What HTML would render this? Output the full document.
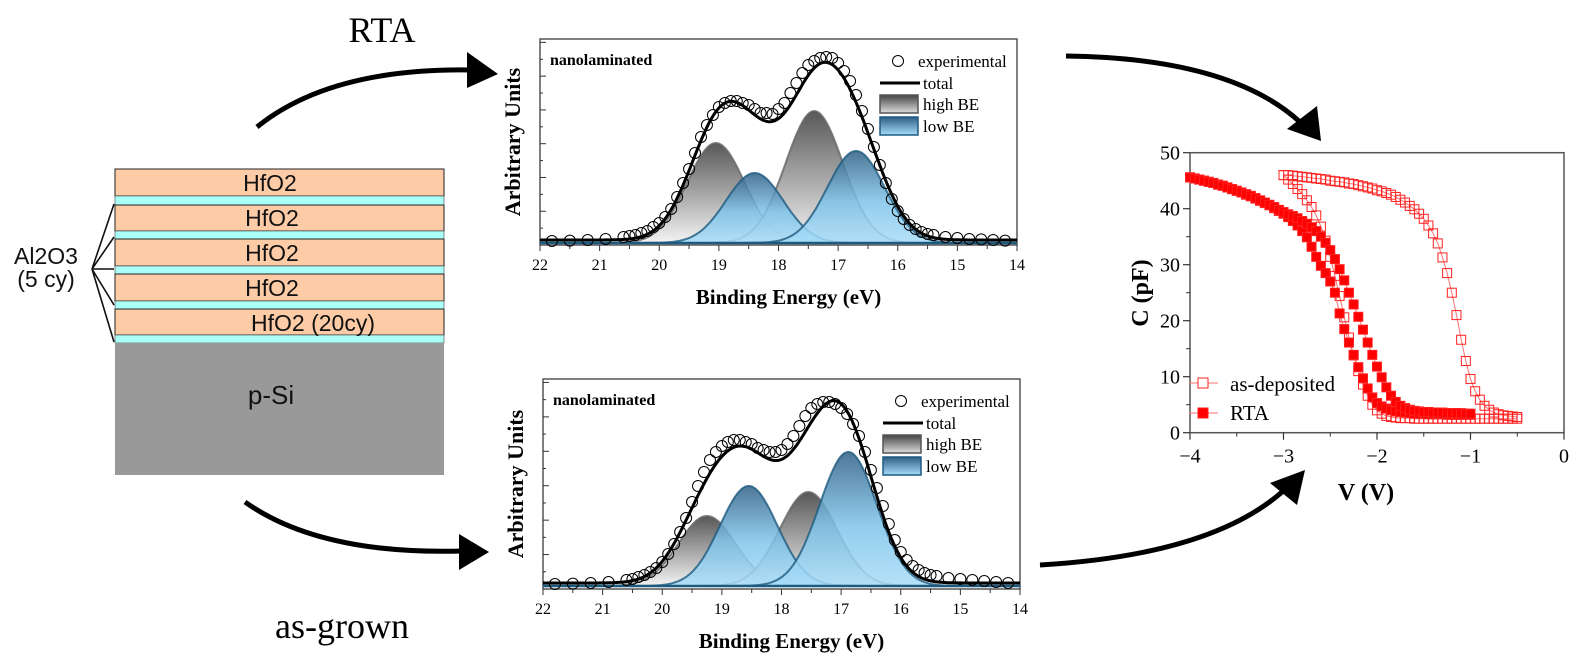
<!DOCTYPE html>
<html><head><meta charset="utf-8">
<style>
html,body{margin:0;padding:0;background:#fff;width:1582px;height:660px;overflow:hidden}
svg{display:block}
.sans{font-family:"Liberation Sans",sans-serif}
.serif{font-family:"Liberation Serif",serif}
</style></head>
<body>
<svg id="fig" width="1582" height="660" viewBox="0 0 1582 660" xmlns="http://www.w3.org/2000/svg">
<defs>
<linearGradient id="gGrey" x1="0" y1="0" x2="0" y2="1"><stop offset="0" stop-color="#3a3a3a"/><stop offset="1" stop-color="#f2f2f2"/></linearGradient>
<linearGradient id="gBlue" x1="0" y1="0" x2="0" y2="1"><stop offset="0" stop-color="#2f5f85"/><stop offset="0.55" stop-color="#7fc4ea"/><stop offset="1" stop-color="#a8dcf8"/></linearGradient>
<linearGradient id="gGreyL" x1="0" y1="0" x2="0" y2="1"><stop offset="0" stop-color="#444"/><stop offset="1" stop-color="#ddd"/></linearGradient>
<linearGradient id="gBlueL" x1="0" y1="0" x2="0" y2="1"><stop offset="0" stop-color="#2d5e86"/><stop offset="1" stop-color="#a6dcf8"/></linearGradient>
</defs>

<g class="sans">
  <rect x="115" y="169" width="329" height="27" fill="#fdcba6" stroke="#222" stroke-width="1"/>
  <rect x="115" y="196" width="329" height="9" fill="#aafff8" stroke="#444" stroke-width="0.6"/>
  <rect x="115" y="205" width="329" height="26" fill="#fdcba6" stroke="#222" stroke-width="1"/>
  <rect x="115" y="231" width="329" height="8" fill="#aafff8" stroke="#444" stroke-width="0.6"/>
  <rect x="115" y="239" width="329" height="27" fill="#fdcba6" stroke="#222" stroke-width="1"/>
  <rect x="115" y="266" width="329" height="8" fill="#aafff8" stroke="#444" stroke-width="0.6"/>
  <rect x="115" y="274" width="329" height="27" fill="#fdcba6" stroke="#222" stroke-width="1"/>
  <rect x="115" y="301" width="329" height="8" fill="#aafff8" stroke="#444" stroke-width="0.6"/>
  <rect x="115" y="309" width="329" height="26" fill="#fdcba6" stroke="#222" stroke-width="1"/>
  <rect x="115" y="335" width="329" height="8" fill="#aafff8" stroke="#444" stroke-width="0.6"/>
  <rect x="115" y="343" width="329" height="132" fill="#999"/>
  <g font-size="23" fill="#111" text-anchor="middle">
    <text x="270" y="191">HfO2</text>
    <text x="272" y="226">HfO2</text>
    <text x="272" y="261">HfO2</text>
    <text x="272" y="296">HfO2</text>
    <text x="313" y="331">HfO2 (20cy)</text>
    <text x="271" y="404" font-size="26">p-Si</text>
    <text x="46" y="264">Al2O3</text>
    <text x="46" y="287">(5 cy)</text>
  </g>
  <g stroke="#111" stroke-width="1.6" fill="none">
    <path d="M92 269 L114 204 M92 269 L114 237 M92 269 L114 269 M92 269 L114 305 M92 269 L114 342"/>
  </g>
</g>

<g>
  <path d="M257 127 Q330 68 470 70" stroke="#000" stroke-width="5" fill="none"/>
  <polygon points="467,52 498,74 467,88" fill="#000"/>
  <path d="M245 502 Q320 555 462 551" stroke="#000" stroke-width="5" fill="none"/>
  <polygon points="459,534 489,552 459,570" fill="#000"/>
  <path d="M1066 56 Q1230 58 1300 122" stroke="#000" stroke-width="5" fill="none"/>
  <polygon points="1287,129 1317,106 1321,141" fill="#000"/>
  <path d="M1040 565 Q1210 555 1282 492" stroke="#000" stroke-width="5" fill="none"/>
  <polygon points="1270,483 1297,505 1305,470" fill="#000"/>
  <text x="382" y="42" class="serif" font-size="36" text-anchor="middle">RTA</text>
  <text x="342" y="638" class="serif" font-size="36" text-anchor="middle">as-grown</text>
</g>

<g id="xpsTop"></g>
<g id="xpsBot"></g>
<g id="cv"></g>
</svg>

<script>
// ---------- XPS data ----------
const xpsTicks = [22,21,20,19,18,17,16,15,14];
const expEnergies = [21.8,21.5,21.2,20.9,20.6,20.5,20.4,20.3,20.2,20.1,20.0,19.9,19.8,19.7,19.6,19.5,19.4,19.3,19.2,19.1,19.0,18.9,18.8,18.7,18.6,18.5,18.4,18.3,18.2,18.1,18.0,17.9,17.8,17.7,17.6,17.5,17.4,17.3,17.2,17.1,17.0,16.9,16.8,16.7,16.6,16.5,16.4,16.3,16.2,16.1,16.0,15.9,15.8,15.7,15.6,15.5,15.4,15.2,15.0,14.8,14.6,14.4,14.2];
const expTop = [0.01,0.012,0.015,0.02,0.03,0.035,0.04,0.05,0.06,0.08,0.10,0.13,0.17,0.23,0.30,0.37,0.45,0.53,0.59,0.64,0.68,0.70,0.71,0.71,0.70,0.69,0.67,0.65,0.65,0.645,0.67,0.70,0.75,0.80,0.85,0.89,0.91,0.925,0.93,0.925,0.90,0.86,0.81,0.74,0.66,0.57,0.48,0.39,0.30,0.22,0.16,0.12,0.09,0.07,0.055,0.045,0.04,0.03,0.025,0.02,0.018,0.015,0.012];
const expBot = [0.01,0.012,0.015,0.02,0.03,0.035,0.045,0.055,0.07,0.09,0.12,0.16,0.21,0.27,0.34,0.42,0.50,0.57,0.63,0.67,0.70,0.72,0.73,0.73,0.72,0.71,0.69,0.68,0.67,0.67,0.68,0.71,0.75,0.80,0.85,0.89,0.91,0.92,0.92,0.91,0.89,0.86,0.81,0.75,0.67,0.58,0.49,0.40,0.31,0.23,0.17,0.13,0.10,0.08,0.065,0.055,0.05,0.04,0.035,0.03,0.025,0.02,0.015];
const highCentersTop = [19.05,17.4];
const highHeightsTop = [0.50,0.66];
const lowCentersTop = [18.4,16.7];
const lowHeightsTop = [0.35,0.46];
const highCentersBot = [19.25,17.55];
const highHeightsBot = [0.35,0.47];
const lowCentersBot = [18.55,16.88];
const lowHeightsBot = [0.50,0.67];
const peakSigma = [0.48];

// ---------- CV data ----------
const cvTicksX = [-4,-3,-2,-1,0];
const cvTicksY = [0,10,20,30,40,50];
const asDepV = [-3.00,-2.95,-2.90,-2.85,-2.80,-2.75,-2.70,-2.65,-2.60,-2.55,-2.50,-2.45,-2.40,-2.35,-2.30,-2.25,-2.20,-2.15,-2.10,-2.05,-2.00,-1.95,-1.90,-1.85,-1.80,-1.75,-1.70,-1.65,-1.60,-1.55,-1.50,-1.45,-1.40,-1.35,-1.30,-1.25,-1.20,-1.15,-1.10,-1.05,-1.00,-0.95,-0.90,-0.85,-0.80,-0.75,-0.70,-0.65,-0.60,-0.55,-0.50];
const asDepUpper = [46.0,46.0,45.9,45.8,45.7,45.6,45.5,45.4,45.3,45.2,45.0,44.9,44.8,44.7,44.5,44.4,44.2,44.0,43.8,43.6,43.3,43.1,42.8,42.5,42.1,41.6,41.1,40.5,39.9,39.1,38.2,37.0,35.6,33.8,31.3,28.5,25.0,21.0,16.6,12.8,9.6,7.4,5.9,4.8,4.1,3.6,3.3,3.1,3.0,2.9,2.8];
const asDepLower = [46.0,45.2,44.4,43.5,42.6,41.5,40.3,38.8,36.8,34.3,31.4,28.0,24.4,20.6,17.0,13.8,11.0,8.6,6.6,5.0,4.0,3.4,3.0,2.8,2.7,2.6,2.6,2.6,2.5,2.5,2.5,2.5,2.5,2.5,2.5,2.5,2.5,2.5,2.5,2.5,2.5,2.5,2.5,2.5,2.5,2.5,2.5,2.5,2.5,2.5,2.5];
const rtaV = [-4.00,-3.95,-3.90,-3.85,-3.80,-3.75,-3.70,-3.65,-3.60,-3.55,-3.50,-3.45,-3.40,-3.35,-3.30,-3.25,-3.20,-3.15,-3.10,-3.05,-3.00,-2.95,-2.90,-2.85,-2.80,-2.75,-2.70,-2.65,-2.60,-2.55,-2.50,-2.45,-2.40,-2.35,-2.30,-2.25,-2.20,-2.15,-2.10,-2.05,-2.00,-1.95,-1.90,-1.85,-1.80,-1.75,-1.70,-1.65,-1.60,-1.55,-1.50,-1.45,-1.40,-1.35,-1.30,-1.25,-1.20,-1.15,-1.10,-1.05,-1.00];
const rtaLeft = [45.6,45.4,45.2,45.0,44.8,44.6,44.3,44.1,43.8,43.5,43.2,42.9,42.5,42.2,41.8,41.4,41.0,40.6,40.1,39.6,39.1,38.5,37.8,37.0,36.0,34.9,33.2,31.4,29.8,28.5,27.0,25.0,21.3,18.5,16.1,13.9,11.7,9.7,7.9,6.3,5.3,4.7,4.3,4.0,3.8,3.7,3.6,3.5,3.4,3.4,3.4,3.3,3.3,3.3,3.3,3.2,3.2,3.2,3.2,3.2,3.2];
const rtaRight = [45.6,45.4,45.2,45.0,44.8,44.6,44.3,44.1,43.8,43.5,43.2,42.9,42.6,42.3,41.9,41.5,41.1,40.7,40.3,39.8,39.4,39.0,38.7,38.3,37.8,37.3,36.7,36.0,35.0,33.9,32.6,31.0,29.2,27.2,25.0,22.9,20.7,18.4,16.1,13.9,11.8,9.9,8.1,6.6,5.5,4.8,4.4,4.1,3.9,3.8,3.7,3.7,3.6,3.6,3.6,3.5,3.5,3.5,3.5,3.4,3.4];

const NS = "http://www.w3.org/2000/svg";
function mk(tag, attrs, parent){
  const e = document.createElementNS(NS, tag);
  for (const k in attrs) e.setAttribute(k, attrs[k]);
  if (parent) parent.appendChild(e);
  return e;
}
function gauss(x, c, h){ const s = peakSigma[0]; return h*Math.exp(-(x-c)*(x-c)/(2*s*s)); }

function drawXPS(g, L, R, T, B, base, hc, hh, lc, lh, expVals){
  const xs = e => L + (22 - e) * (R - L) / 8;
  const ys = v => base - v * 200;
  const frame = mk('rect', {x:L, y:T, width:R-L, height:B-T, fill:'none', stroke:'#555', 'stroke-width':1.5}, g);
  
  
  xpsTicks.forEach(t => {
    const x = xs(t);
    mk('line', {x1:x, y1:B, x2:x, y2:B+6, stroke:'#333', 'stroke-width':1}, g);
    const lab = mk('text', {x:x, y:B+25, 'font-size':16, 'text-anchor':'middle', 'font-family':'Liberation Serif, serif'}, g);
    lab.textContent = t;
    
    
    if (t > 14) mk('line', {x1:xs(t-0.5), y1:B, x2:xs(t-0.5), y2:B+4, stroke:'#333', 'stroke-width':1}, g);
  });
  for (let i = 1; i <= 12; i++){
    const y = B - i * (B - T) / 12.2;
    mk('line', {x1:L, y1:y, x2:L + (i % 2 ? 3 : 6), y2:y, stroke:'#333', 'stroke-width':1}, g);
  }
  const es = [];
  for (let e = 22; e >= 14 - 1e-9; e -= 0.02) es.push(e);
  function comp(c, h, fill, stroke, name){
    let d = 'M' + xs(22) + ' ' + ys(0);
    es.forEach(e => { d += ' L' + xs(e).toFixed(1) + ' ' + ys(gauss(e, c, h)).toFixed(1); });
    d += ' L' + xs(14) + ' ' + ys(0) + ' Z';
    const p = mk('path', {d:d, fill:fill, stroke:stroke, 'stroke-width':2, 'fill-opacity':0.85, 'stroke-opacity':0.8}, g);
    
    
  }
  hc.forEach((c, i) => comp(c, hh[i], 'url(#gGrey)', '#666', 'high-be-peak'));
  lc.forEach((c, i) => comp(c, lh[i], 'url(#gBlue)', '#1d5a80', 'low-be-peak'));
  const bl = mk('line', {x1:L, y1:ys(0), x2:R, y2:ys(0), stroke:'#1d5a80', 'stroke-width':2.5}, g);
  
  
  let d = '';
  es.forEach((e, i) => {
    let v = 0;
    hc.forEach((c, j) => v += gauss(e, c, hh[j]));
    lc.forEach((c, j) => v += gauss(e, c, lh[j]));
    v += 0.015;
    d += (i ? ' L' : 'M') + xs(e).toFixed(1) + ' ' + ys(v).toFixed(1);
  });
  const tot = mk('path', {d:d, fill:'none', stroke:'#000', 'stroke-width':3}, g);
  
  
  expEnergies.forEach((e, i) => {
    const c = mk('circle', {cx:xs(e), cy:ys(expVals[i]), r:5.5, fill:'none', stroke:'#000', 'stroke-width':1}, g);
    
    
  });
  const tag = mk('text', {x:L+10, y:T+26, 'font-size':16, 'font-weight':'bold', 'font-family':'Liberation Serif, serif'}, g);
  tag.textContent = 'nanolaminated';
  
  
  const xt = mk('text', {x:(L+R)/2 + 10, y:B+59, 'font-size':21, 'font-weight':'bold', 'text-anchor':'middle', 'font-family':'Liberation Serif, serif'}, g);
  xt.textContent = 'Binding Energy (eV)';
  
  
  const yt = mk('text', {x:0, y:0, 'font-size':22, 'font-weight':'bold', 'text-anchor':'middle', 'font-family':'Liberation Serif, serif', transform:'translate(' + (L-20) + ',' + ((T+B)/2) + ') rotate(-90)'}, g);
  yt.textContent = 'Arbitrary Units';
  
  
  const lx = R - 137, ly = T + 22;
  const lg = mk('g', {'font-family':'Liberation Serif, serif', 'font-size':17}, g);
  
  
  mk('circle', {cx:lx+18, cy:ly, r:5.5, fill:'none', stroke:'#000', 'stroke-width':1}, lg);
  const t1 = mk('text', {x:lx+38, y:ly+6}, lg); t1.textContent = 'experimental';
  
  
  mk('line', {x1:lx, y1:ly+22, x2:lx+40, y2:ly+22, stroke:'#000', 'stroke-width':3}, lg);
  const t2 = mk('text', {x:lx+43, y:ly+28}, lg); t2.textContent = 'total';
  
  
  mk('rect', {x:lx, y:ly+34, width:38, height:18, fill:'url(#gGreyL)', stroke:'#555', 'stroke-width':1.5}, lg);
  const t3 = mk('text', {x:lx+43, y:ly+49}, lg); t3.textContent = 'high BE';
  
  
  mk('rect', {x:lx, y:ly+56, width:38, height:18, fill:'url(#gBlueL)', stroke:'#1d5a80', 'stroke-width':1.5}, lg);
  const t4 = mk('text', {x:lx+43, y:ly+71}, lg); t4.textContent = 'low BE';
  
  
}

drawXPS(document.getElementById('xpsTop'), 540, 1017, 39, 245, 243, highCentersTop, highHeightsTop, lowCentersTop, lowHeightsTop, expTop);
drawXPS(document.getElementById('xpsBot'), 543, 1020, 379, 589, 586, highCentersBot, highHeightsBot, lowCentersBot, lowHeightsBot, expBot);

(function(){
  const g = document.getElementById('cv');
  const L = 1190, R = 1564, T = 152.7, B = 432.7;
  const xs = v => L + (v + 4) * (R - L) / 4;
  const ys = c => B - c * (B - T) / 50;
  const fr = mk('rect', {x:L, y:T, width:R-L, height:B-T, fill:'none', stroke:'#555', 'stroke-width':1.5}, g);
  
  
  cvTicksX.forEach(t => {
    mk('line', {x1:xs(t), y1:B, x2:xs(t), y2:B+7, stroke:'#333', 'stroke-width':1.2}, g);
    if (t < 0) mk('line', {x1:xs(t+0.5), y1:B, x2:xs(t+0.5), y2:B+4, stroke:'#333', 'stroke-width':1}, g);
    const lab = mk('text', {x:xs(t), y:B+30, 'font-size':20, 'text-anchor':'middle', 'font-family':'Liberation Serif, serif'}, g);
    lab.textContent = t < 0 ? '\u2212' + (-t) : t;
    
    
  });
  cvTicksY.forEach(t => {
    mk('line', {x1:L-7, y1:ys(t), x2:L, y2:ys(t), stroke:'#333', 'stroke-width':1.2}, g);
    if (t < 50) mk('line', {x1:L-4, y1:ys(t+5), x2:L, y2:ys(t+5), stroke:'#333', 'stroke-width':1}, g);
    const lab = mk('text', {x:L-10, y:ys(t)+7, 'font-size':20, 'text-anchor':'end', 'font-family':'Liberation Serif, serif'}, g);
    lab.textContent = t;
    
    
  });
  function series(vs, cs, filled, name){
    let d = '';
    vs.forEach((v, i) => { d += (i ? ' L' : 'M') + xs(v).toFixed(1) + ' ' + ys(cs[i]).toFixed(1); });
    const ln = mk('path', {d:d, fill:'none', stroke:'#ff7070', 'stroke-width':1}, g);
    
    
    vs.forEach((v, i) => {
      const r = mk('rect', {x:xs(v)-4.5, y:ys(cs[i])-4.5, width:9, height:9, fill:filled ? '#ff0000' : '#fff', 'fill-opacity':filled ? 1 : 0, stroke:'#ff2020', 'stroke-width':1}, g);
      
      
    });
  }
  series(asDepV, asDepUpper, false, 'as-deposited-forward');
  series(asDepV, asDepLower, false, 'as-deposited-reverse');
  series(rtaV, rtaLeft, true, 'rta-forward');
  series(rtaV, rtaRight, true, 'rta-reverse');
  const lg = mk('g', {'font-family':'Liberation Serif, serif', 'font-size':21}, g);
  
  
  mk('line', {x1:1189, y1:383, x2:1218, y2:383, stroke:'#ff7070', 'stroke-width':1}, lg);
  mk('rect', {x:1198, y:378, width:10, height:10, fill:'#fff', stroke:'#ff2020', 'stroke-width':1}, lg);
  const a = mk('text', {x:1230, y:391}, lg); a.textContent = 'as-deposited';
  
  
  mk('line', {x1:1189, y1:413, x2:1218, y2:413, stroke:'#ff7070', 'stroke-width':1}, lg);
  mk('rect', {x:1198, y:408, width:10, height:10, fill:'#ff0000', stroke:'#ff2020', 'stroke-width':1}, lg);
  const b = mk('text', {x:1230, y:420}, lg); b.textContent = 'RTA';
  
  
  const xt = mk('text', {x:1366, y:500, 'font-size':24, 'font-weight':'bold', 'text-anchor':'middle', 'font-family':'Liberation Serif, serif'}, g);
  xt.textContent = 'V (V)';
  
  
  const yt = mk('text', {x:0, y:0, 'font-size':24, 'font-weight':'bold', 'text-anchor':'middle', 'font-family':'Liberation Serif, serif', transform:'translate(1148,293) rotate(-90)'}, g);
  yt.textContent = 'C (pF)';
  
  
})();
</script>
</body></html>
